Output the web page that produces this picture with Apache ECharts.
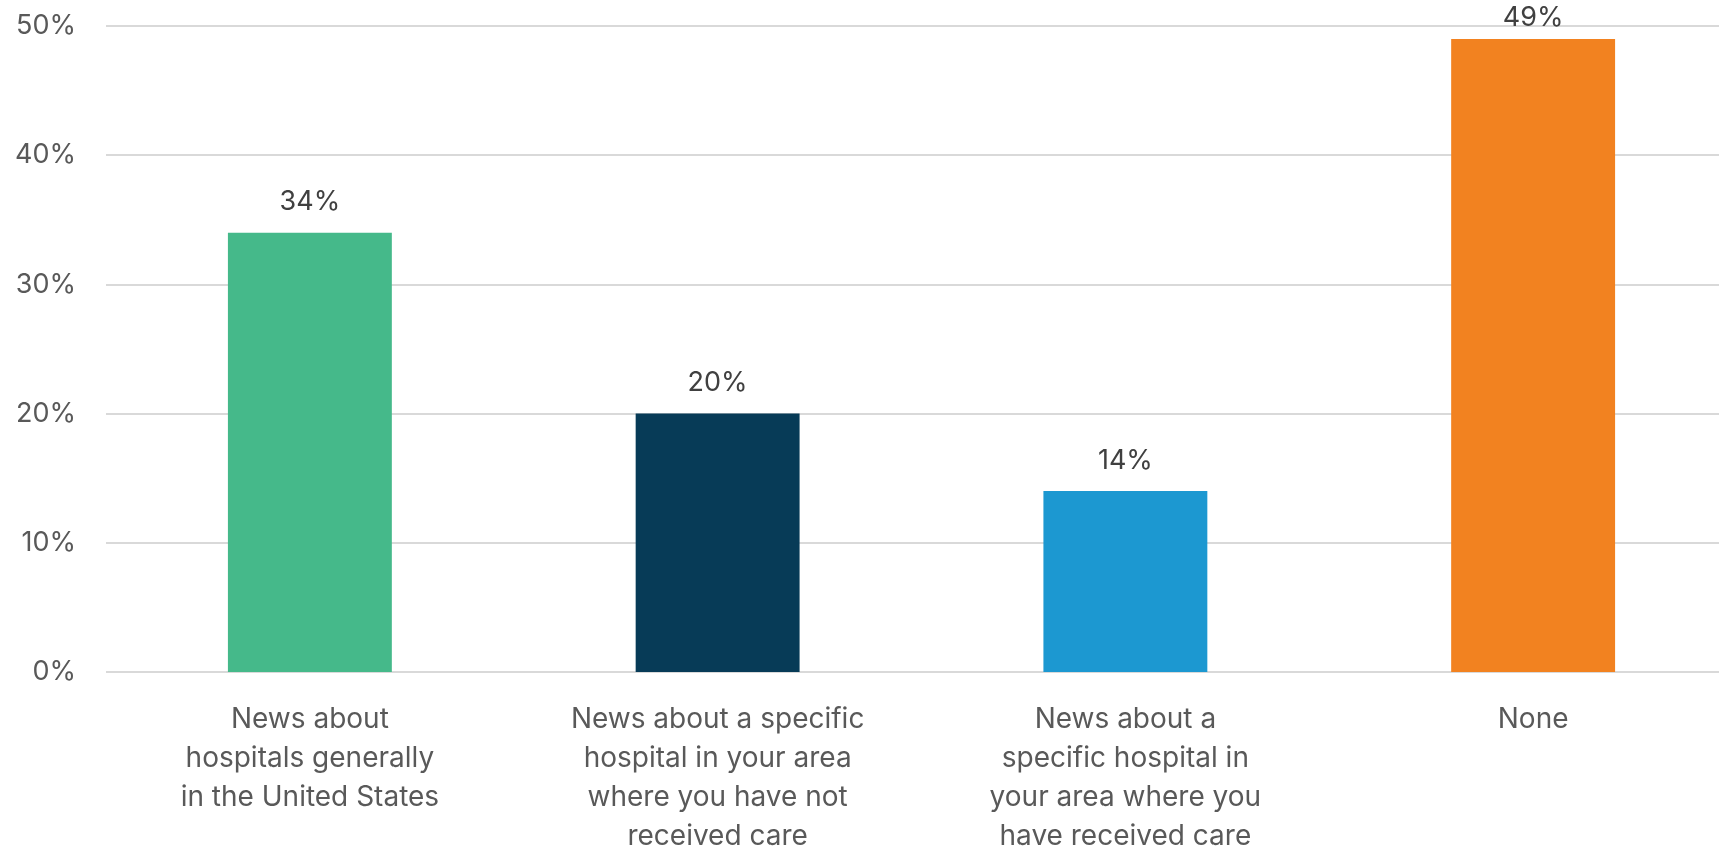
<!DOCTYPE html>
<html><head><meta charset="utf-8">
<script src="https://cdn.jsdelivr.net/npm/echarts@6/dist/echarts.min.js"></script>
<style>html,body{margin:0;padding:0;background:#fff}#c{width:1719px;height:846px}</style>
</head><body><div id="c"></div>
<script>
const categories = [
  "News about\nhospitals generally\nin the United States",
  "News about a specific\nhospital in your area\nwhere you have not\nreceived care",
  "News about a\nspecific hospital in\nyour area where you\nhave received care",
  "None"
];
const values = [34, 20, 14, 49];
const barColors = ["#45B98A", "#073B57", "#1C98D1", "#F28220"];
const yTicks = [0, 10, 20, 30, 40, 50];

const FONT = "Inter";
const chart = echarts.init(document.getElementById('c'), null, {renderer: 'canvas'});
chart.setOption({
  animation: false,
  grid: {left: 106, right: -18, top: 26, bottom: 174, containLabel: false, outerBoundsMode: 'none'},
  xAxis: {
    type: 'category', data: categories,
    axisLine: {show: false}, axisTick: {show: false},
    axisLabel: {interval: 0, margin: 28, fontFamily: FONT, fontSize: 28, color: '#595959', lineHeight: 39, align: 'center'}
  },
  yAxis: {
    type: 'value', min: yTicks[0], max: yTicks[yTicks.length-1], interval: 10,
    axisLine: {show: false}, axisTick: {show: false},
    splitLine: {lineStyle: {color: '#D9D9D9', width: 2}},
    axisLabel: {margin: 30, fontFamily: FONT, fontSize: 27, color: '#595959', formatter: v => v + '%'}
  },
  series: [{
    type: 'bar', barWidth: '40.2%',
    data: values.map((v, i) => ({
      value: v,
      itemStyle: {color: barColors[i]},
      label: {distance: v > 45 ? 8 : 17}
    })),
    label: {show: true, position: 'top', fontFamily: FONT, fontSize: 27, color: '#404040', formatter: p => p.value + '%'}
  }]
});
</script></body></html>
